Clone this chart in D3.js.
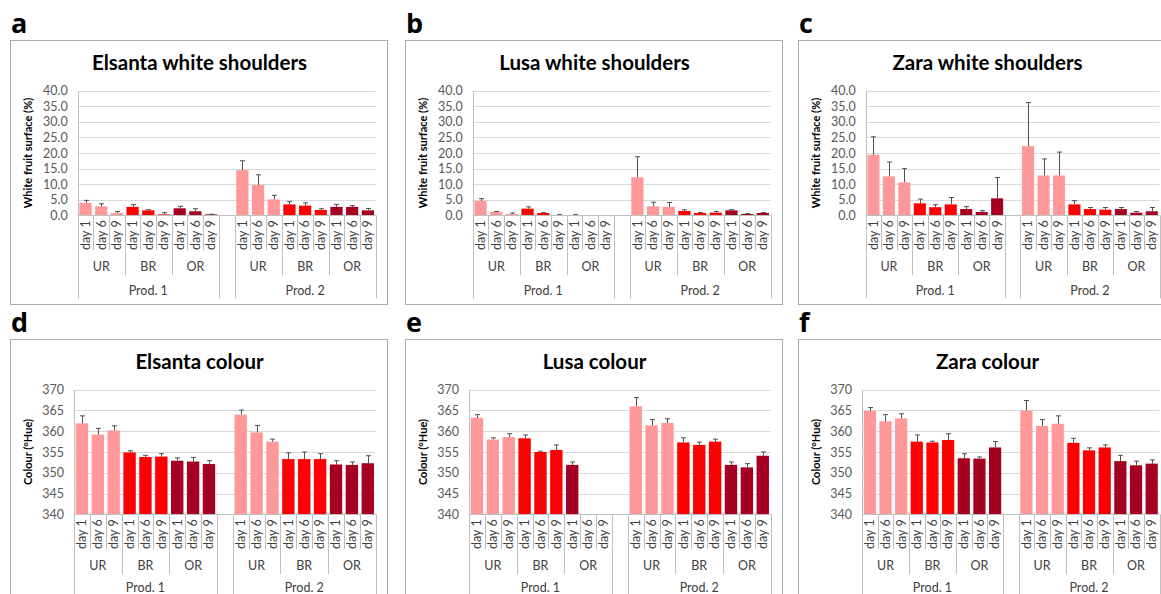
<!DOCTYPE html>
<html>
<head>
<meta charset="utf-8">
<script src="https://cdn.jsdelivr.net/npm/d3@7"></script>
<style>
  html, body { margin: 0; padding: 0; background: #ffffff; }
  svg { display: block; font-family: Lato, "Open Sans", sans-serif; }
</style>
</head>
<body>
<svg id="chart" width="1161" height="594"></svg>
<script>
// ---------- categories / tick labels ----------
const days = ["day 1", "day 6", "day 9"];
const stages = ["UR", "BR", "OR"];
const prods = ["Prod. 1", "Prod. 2"];
const stageColors = ["#ff9999", "#ff0000", "#a50021"];
const whiteTicks = [0, 5, 10, 15, 20, 25, 30, 35, 40];
const colourTicks = [340, 345, 350, 355, 360, 365, 370];

// ---------- series values (order: Prod.1 UR d1,d6,d9, BR..., OR..., Prod.2 ...) ----------
const elsantaWhite    = [4.0, 2.9, 0.75, 2.7, 1.6, 0.3, 2.25, 1.3, 0.3,   14.5, 9.7, 5.1, 3.5, 3.1, 1.7, 2.7, 2.7, 1.6];
const elsantaWhiteErr = [0.8, 0.8, 0.45, 0.7, 0.2, 0.55, 0.65, 0.8, 0.05, 3.0, 3.3, 1.3, 0.9, 0.9, 0.4, 0.8, 0.4, 0.6];
const lusaWhite       = [4.6, 1.07, 0.43, 2.14, 0.75, 0.1, 0.1, 0, 0,     12.2, 2.9, 2.7, 1.4, 0.75, 0.85, 1.6, 0.43, 0.75];
const lusaWhiteErr    = [0.75, 0.13, 0.32, 0.56, 0.1, 0.1, 0.1, 0, 0,     6.6, 1.3, 1.4, 0.4, 0.1, 0.35, 0.2, 0.1, 0.1];
const zaraWhite       = [19.4, 12.5, 10.6, 3.85, 2.6, 3.5, 2.0, 1.07, 5.45, 22.2, 12.8, 12.8, 3.5, 2.0, 1.8, 2.0, 0.85, 1.3];
const zaraWhiteErr    = [5.8, 4.6, 4.4, 1.35, 0.8, 2.2, 0.8, 0.43, 6.65,   14.0, 5.3, 7.5, 1.2, 0.5, 0.7, 0.5, 0.35, 1.2];

const elsantaColour    = [361.9, 359.2, 360.2, 354.9, 353.8, 353.9, 352.9, 352.7, 352.1, 364.0, 359.7, 357.5, 353.3, 353.3, 353.3, 352.0, 351.9, 352.3];
const elsantaColourErr = [1.8, 1.5, 1.1, 0.4, 0.4, 0.7, 0.7, 1.0, 0.8,                   1.1, 1.7, 0.6, 1.5, 1.7, 1.3, 0.9, 0.7, 1.8];
const lusaColour       = [363.25, 358.0, 358.6, 358.3, 355.0, 355.5, 351.9, null, null,  366.0, 361.4, 362.0, 357.3, 356.7, 357.5, 351.9, 351.3, 354.1];
const lusaColourErr    = [0.75, 0.4, 0.8, 0.8, 0.2, 1.2, 0.7, null, null,              2.1, 1.4, 1.0, 1.1, 0.7, 0.6, 0.7, 0.9, 0.9];
const zaraColour       = [364.9, 362.4, 363.1, 357.5, 357.3, 357.9, 353.5, 353.4, 356.1, 365.0, 361.3, 361.8, 357.2, 355.4, 356.1, 352.8, 351.8, 352.2];
const zaraColourErr    = [0.8, 1.6, 1.1, 1.6, 0.3, 1.5, 1.1, 0.4, 1.4,                  2.4, 1.5, 1.9, 1.1, 0.6, 0.6, 1.4, 1.0, 0.9];

const panels = [
  { letter: "a", title: "Elsanta white shoulders", values: elsantaWhite, errors: elsantaWhiteErr, kind: "white", col: 0, row: 0 },
  { letter: "b", title: "Lusa white shoulders",    values: lusaWhite,    errors: lusaWhiteErr,    kind: "white", col: 1, row: 0 },
  { letter: "c", title: "Zara white shoulders",    values: zaraWhite,    errors: zaraWhiteErr,    kind: "white", col: 2, row: 0 },
  { letter: "d", title: "Elsanta colour",          values: elsantaColour, errors: elsantaColourErr, kind: "colour", col: 0, row: 1 },
  { letter: "e", title: "Lusa colour",             values: lusaColour,    errors: lusaColourErr,    kind: "colour", col: 1, row: 1 },
  { letter: "f", title: "Zara colour",             values: zaraColour,    errors: zaraColourErr,    kind: "colour", col: 2, row: 1 }
];

// ---------- layout ----------
const colX = [10, 405, 798];
const rowY = [40, 339];
const boxW = 377, boxH = 264;
const pageW = 1161;

const svg = d3.select("#chart");

panels.forEach(p => {
  const bx = colX[p.col], by = rowY[p.row];
  const g = svg.append("g");

  // panel letter
  g.append("text")
    .attr("x", bx + 1).attr("y", by - 7)
    .attr("font-family", "'Open Sans', sans-serif")
    .attr("font-weight", "bold").attr("font-size", 27)
    .attr("fill", "#000").text(p.letter);

  // box
  g.append("rect")
    .attr("x", bx + 0.5).attr("y", by + 0.5)
    .attr("width", boxW).attr("height", boxH)
    .attr("fill", "#fff").attr("stroke", "#ababab").attr("stroke-width", 1);

  // title
  g.append("text")
    .attr("x", bx + boxW / 2 + 1).attr("y", by + 30)
    .attr("text-anchor", "middle")
    .attr("font-weight", "bold").attr("font-size", 20.5)
    .attr("fill", "#000").text(p.title);

  const isWhite = p.kind === "white";
  const ticks = isWhite ? whiteTicks : colourTicks;
  const left = bx + (isWhite ? 67.7 : 64);
  const right = Math.min(bx + 365.7, pageW - 1.5);
  const top = by + 50.7, bottom = by + 175.3;

  const y = d3.scaleLinear()
    .domain([ticks[0], ticks[ticks.length - 1]])
    .range([bottom, top]);

  // slots
  const slots = [];
  prods.forEach((pr, pi) => {
    if (pi > 0) slots.push({ key: "gap" + pi, gap: true });
    stages.forEach((st, si) => {
      days.forEach((d, di) => {
        const idx = pi * 9 + si * 3 + di;
        slots.push({ key: pr + "|" + st + "|" + d, prod: pi, stage: si, day: di, idx });
      });
    });
  });

  const x = d3.scaleBand()
    .domain(slots.map(s => s.key))
    .range([left, right])
    .paddingInner(0.22)
    .paddingOuter(0.11);
  const step = x.step();
  const slotLeft = k => x(k) - step * 0.11;

  // gridlines
  g.append("g").selectAll("line")
    .data(ticks.slice(1))
    .join("line")
    .attr("x1", left).attr("x2", right)
    .attr("y1", d => Math.round(y(d)) + 0.5).attr("y2", d => Math.round(y(d)) + 0.5)
    .attr("stroke", "#d9d9d9").attr("stroke-width", 1);

  // y tick labels via axis
  const yAxis = d3.axisLeft(y)
    .tickValues(ticks)
    .tickSize(0)
    .tickPadding(10)
    .tickFormat(isWhite ? d3.format(".1f") : d3.format("d"));
  const ya = g.append("g").attr("transform", `translate(${left},0)`).call(yAxis);
  ya.select(".domain").remove();
  ya.selectAll("text")
    .attr("font-family", "Lato, sans-serif")
    .attr("font-size", 12.5).attr("fill", "#595959");

  // y axis line
  g.append("line")
    .attr("x1", Math.round(left) + 0.5).attr("x2", Math.round(left) + 0.5)
    .attr("y1", top).attr("y2", bottom)
    .attr("stroke", "#bfbfbf");

  // y axis title
  g.append("text")
    .attr("transform", `translate(${bx + 22},${(top + bottom) / 2}) rotate(-90)`)
    .attr("text-anchor", "middle")
    .attr("font-weight", "bold").attr("font-size", 11)
    .attr("fill", "#000")
    .text(isWhite ? "White fruit surface (%)" : "Colour (°Hue)");

  // bars
  const dataSlots = slots.filter(s => !s.gap);
  g.append("g").selectAll("rect")
    .data(dataSlots.filter(s => p.values[s.idx] != null && p.values[s.idx] > ticks[0]))
    .join("rect")
    .attr("x", s => x(s.key))
    .attr("width", x.bandwidth())
    .attr("y", s => y(p.values[s.idx]))
    .attr("height", s => bottom - y(p.values[s.idx]))
    .attr("fill", s => stageColors[s.stage]);

  // error bars
  const eb = g.append("g").attr("stroke", "#505050").attr("stroke-width", 1);
  dataSlots.filter(s => p.values[s.idx] != null && p.errors[s.idx] > 0).forEach(s => {
    const cx = Math.round(x(s.key) + x.bandwidth() / 2) + 0.5;
    const v = p.values[s.idx], e = p.errors[s.idx];
    eb.append("line").attr("x1", cx).attr("x2", cx)
      .attr("y1", y(v)).attr("y2", y(v + e));
    eb.append("line").attr("x1", cx - 2.5).attr("x2", cx + 2.5)
      .attr("y1", y(v + e)).attr("y2", y(v + e));
  });

  // x axis base line
  g.append("line")
    .attr("x1", left).attr("x2", right)
    .attr("y1", Math.round(bottom) + 0.5).attr("y2", Math.round(bottom) + 0.5)
    .attr("stroke", "#bfbfbf");

  // category separators
  const sep = g.append("g").attr("stroke", "#bfbfbf").attr("stroke-width", 1);
  const dayH = 35, stageH = 60, prodH = 83;
  slots.forEach((s, i) => {
    const xl = Math.round(slotLeft(s.key)) + 0.5;
    let h;
    if (i === 0 || s.gap || (slots[i - 1] && slots[i - 1].gap)) h = prodH;
    else if (s.day === 0) h = stageH;
    else h = dayH;
    sep.append("line").attr("x1", xl).attr("x2", xl)
      .attr("y1", bottom).attr("y2", bottom + h);
  });
  sep.append("line")
    .attr("x1", Math.round(right) + 0.5).attr("x2", Math.round(right) + 0.5)
    .attr("y1", bottom).attr("y2", bottom + prodH);

  // day labels
  g.append("g").selectAll("text")
    .data(dataSlots)
    .join("text")
    .attr("transform", s => `translate(${x(s.key) + x.bandwidth() / 2},${bottom + 5}) rotate(-90)`)
    .attr("dy", "0.35em")
    .attr("text-anchor", "end")
    .attr("font-size", 12.5).attr("fill", "#404040")
    .text(s => days[s.day]);

  // stage labels + production labels
  const prodY = Math.min(bottom + 80, 592);
  prods.forEach((pr, pi) => {
    stages.forEach((st, si) => {
      const k0 = pr + "|" + st + "|" + days[0];
      const k2 = pr + "|" + st + "|" + days[2];
      const cx = (slotLeft(k0) + slotLeft(k2) + step) / 2;
      g.append("text")
        .attr("x", cx).attr("y", bottom + 56)
        .attr("text-anchor", "middle")
        .attr("font-size", 12.5).attr("fill", "#404040")
        .text(st);
    });
    const k0 = pr + "|" + stages[0] + "|" + days[0];
    const k2 = pr + "|" + stages[2] + "|" + days[2];
    const cx = (slotLeft(k0) + slotLeft(k2) + step) / 2;
    g.append("text")
      .attr("x", cx).attr("y", prodY)
      .attr("text-anchor", "middle")
      .attr("font-size", 12.5).attr("fill", "#404040")
      .text(pr);
  });
});
</script>
</body>
</html>
